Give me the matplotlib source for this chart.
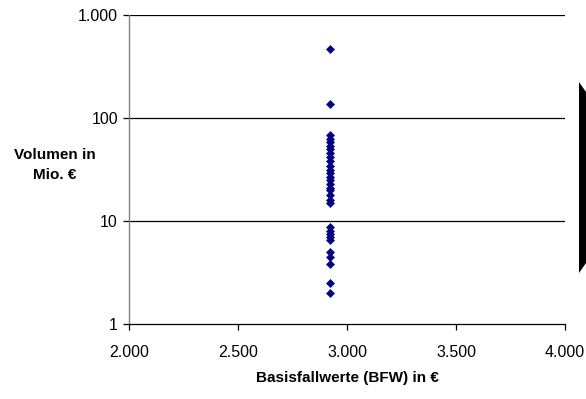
import matplotlib
matplotlib.use("Agg")
import matplotlib.pyplot as plt
from matplotlib.ticker import FixedLocator, FixedFormatter, NullLocator
from matplotlib.patches import Polygon

plt.rcParams['font.family'] = ['Liberation Sans', 'DejaVu Sans']

bfw = [2922] * 31
volumen = [463, 137, 68, 63, 58, 54, 50, 46, 42, 38, 34, 31, 29, 27, 25, 23,
           21, 20, 18, 16, 15, 8.7, 8.0, 7.5, 7.0, 6.6, 5.0, 4.5, 3.8, 2.5, 2.0]

x_ticks = [2000, 2500, 3000, 3500, 4000]
x_labels = ['2.000', '2.500', '3.000', '3.500', '4.000']
y_ticks = [1, 10, 100, 1000]
y_labels = ['1', '10', '100', '1.000']

fig = plt.figure(figsize=(5.86, 3.99), dpi=100)
W, H = 586, 399
ax = fig.add_axes([129 / W, 1 - 324 / H, (565 - 129) / W, (324 - 15) / H])

ax.set_yscale('log')
ax.set_xlim(2000, 4000)
ax.set_ylim(1, 1000)

for y in y_ticks[1:]:
    ax.axhline(y, color='black', lw=0.9, zorder=1)

ax.scatter(bfw, volumen, marker='D', s=18, color='#000080', edgecolors='#000080',
           linewidths=0.3, zorder=3)

ax.xaxis.set_major_locator(FixedLocator(x_ticks))
ax.xaxis.set_major_formatter(FixedFormatter(x_labels))
ax.yaxis.set_major_locator(FixedLocator(y_ticks))
ax.yaxis.set_major_formatter(FixedFormatter(y_labels))
ax.yaxis.set_minor_locator(NullLocator())
ax.tick_params(axis='both', direction='out', length=4, width=0.9, color='black',
               labelsize=11.5)
ax.tick_params(axis='y', pad=4)
ax.tick_params(axis='x', pad=11)

for s in ['top', 'right']:
    ax.spines[s].set_visible(False)
ax.spines['left'].set_color('#808080')
ax.spines['left'].set_linewidth(1.0)
ax.spines['bottom'].set_color('black')
ax.spines['bottom'].set_linewidth(0.9)

fig.text(55 / W, 1 - 165 / H, 'Volumen in\nMio. €', ha='center', va='center',
         fontsize=11, fontweight='bold', linespacing=1.5)
fig.text(347 / W, 1 - 378 / H, 'Basisfallwerte (BFW) in €', ha='center', va='center',
         fontsize=11, fontweight='bold')

poly = Polygon([(579 / W, 1 - 82 / H), (586 / W, 1 - 92 / H), (586 / W, 1 - 263 / H),
                (579 / W, 1 - 273 / H)], closed=True, transform=fig.transFigure,
               facecolor='black', edgecolor='none')
fig.patches.append(poly)

fig.savefig('out.png', dpi=100)
